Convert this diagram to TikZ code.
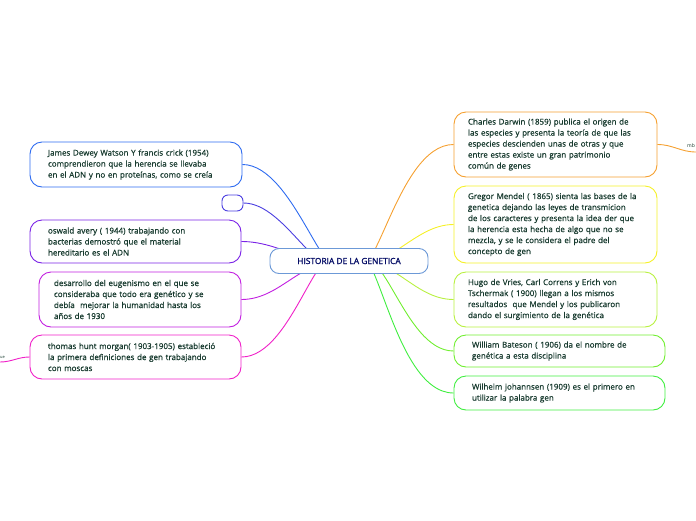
\documentclass[tikz,border=0pt]{standalone}
\usepackage{fontspec}
\setmainfont{Open Sans}
\usetikzlibrary{positioning}
\definecolor{txt}{HTML}{173A2E}
\definecolor{cblue}{HTML}{2E6BF0}
\definecolor{cindigo}{HTML}{4B3FE0}
\definecolor{cviolet}{HTML}{7A22E6}
\definecolor{cpurple}{HTML}{C21FE0}
\definecolor{cpink}{HTML}{F020C8}
\definecolor{corange}{HTML}{F5A030}
\definecolor{cyellow}{HTML}{F5F028}
\definecolor{clime}{HTML}{B8F040}
\definecolor{cgreen}{HTML}{70EE30}
\definecolor{cgreen2}{HTML}{40EE40}
\tikzstyle{topic} = [rectangle, rounded corners=12pt, line width=0.9pt, align=left, text=txt, font=\fontsize{8}{11}\selectfont\addfontfeatures{FakeBold=0.7}, inner sep=0pt]
\tikzstyle{root} = [rectangle, rounded corners=9pt, line width=0.9pt, draw=cyan!50!blue!60, fill=white, text=txt!40!blue!60!black, font=\fontsize{8.4}{9}\selectfont\addfontfeatures{FakeBold=1.5}, minimum width=158pt, minimum height=25pt]
\tikzstyle{link} = [line width=0.9pt]
\begin{document}
\begin{tikzpicture}[x=1pt, y=-1pt]
  \useasboundingbox (0,0) rectangle (696,520);
  %ramas izquierdas
  \node (watson) [topic, draw=cblue, minimum width=212pt, minimum height=45pt, text width=176pt] at (136,164.5) {James Dewey Watson Y francis crick (1954)\\comprendieron que la herencia se llevaba\\en el ADN y no en proteínas, como se creía};
  \node (vacio) [topic, draw=cindigo, rounded corners=6pt, minimum width=21pt, minimum height=16pt] at (232.5,203) {};
  \node (avery) [topic, draw=cviolet, minimum width=211pt, minimum height=43pt, text width=175pt] at (135.5,241.5) {oswald avery ( 1944) trabajando con\\bacterias demostró que el material\\hereditario es el ADN};
  \node (eugen) [topic, draw=cpurple, minimum width=202pt, minimum height=55pt, text width=172pt] at (140,299.5) {desarrollo del eugenismo en el que se\\consideraba que todo era genético y se\\debía\ \ mejorar la humanidad hasta los\\años de 1930};
  \node (morgan) [topic, draw=cpink, minimum width=211pt, minimum height=44pt, text width=175pt] at (135.5,357) {thomas hunt morgan( 1903-1905) estableció\\la primera definiciones de gen trabajando\\con moscas};
  \node (ue) [anchor=west, inner sep=0pt, text=txt, font=\fontsize{4}{4}\selectfont] at (0,357) {ue};

  %ramas derechas
  \node (darwin) [topic, draw=corange, minimum width=203pt, minimum height=65pt, text width=175pt] at (555.5,144.5) {Charles Darwin (1859) publica el origen de\\las especies y presenta la teoría de que las\\especies descienden unas de otras y que\\entre estas existe un gran patrimonio\\común de genes};
  \node (mendel) [topic, draw=cyellow, minimum width=203pt, minimum height=77pt, text width=175pt] at (555.5,224.5) {Gregor Mendel ( 1865) sienta las bases de la\\genetica dejando las leyes de transmicion\\de los caracteres y presenta la idea der que\\la herencia esta hecha de algo que no se\\mezcla, y se le considera el padre del\\concepto de gen};
  \node (hugo) [topic, draw=clime, minimum width=203pt, minimum height=55pt, text width=175pt] at (555.5,299.5) {Hugo de Vries,\ Carl Correns y Erich von\\Tschermak ( 1900) llegan a los mismos\\resultados\ \ que Mendel y los publicaron\\dando el surgimiento de la genética};
  \node (bateson) [topic, draw=cgreen, minimum width=211pt, minimum height=32pt, text width=175pt] at (559.5,351) {William Bateson ( 1906) da el nombre de\\genética a esta disciplina};
  \node (johann) [topic, draw=cgreen2, minimum width=211pt, minimum height=34pt, text width=175pt] at (559.5,393) {Wilhelm johannsen (1909) es el primero en\\utilizar la palabra gen};
  \node (mb) [anchor=west, inner sep=0pt, text=txt, font=\fontsize{5}{5}\selectfont] at (687,146) {mb};

  %conexiones
  \coordinate (lu) at (343,255);
  \coordinate (ld) at (343,267);
  \coordinate (ru) at (352,255);
  \coordinate (rd) at (352,267);
  \draw [link, cblue] (lu) to[out=-105, in=0] (watson.east);
  \draw [link, cindigo] (lu) to[out=-120, in=0] (vacio.east);
  \draw [link, cviolet] (lu) to[out=-160, in=0] (avery.east);
  \draw [link, cpurple] (ld) to[out=160, in=0] (eugen.east);
  \draw [link, cpink] (ld) to[out=115, in=0] (morgan.east);
  \draw [link, corange] (ru) to[out=-70, in=180] (darwin.west);
  \draw [link, cyellow] (ru) to[out=-30, in=180] (mendel.west);
  \draw [link, clime] (rd) to[out=25, in=180] (hugo.west);
  \draw [link, cgreen] (rd) to[out=55, in=180] (bateson.west);
  \draw [link, cgreen2] (rd) to[out=70, in=180] (johann.west);
  \draw [link, corange] (darwin.east) to[out=0, in=180] (696,152);
  \draw [link, cpink] (morgan.west) to[out=180, in=0] (0,362);

  %nodo central
  \node (hist) [root] at (349,261) {HISTORIA DE LA GENETICA};
\end{tikzpicture}
\end{document}
